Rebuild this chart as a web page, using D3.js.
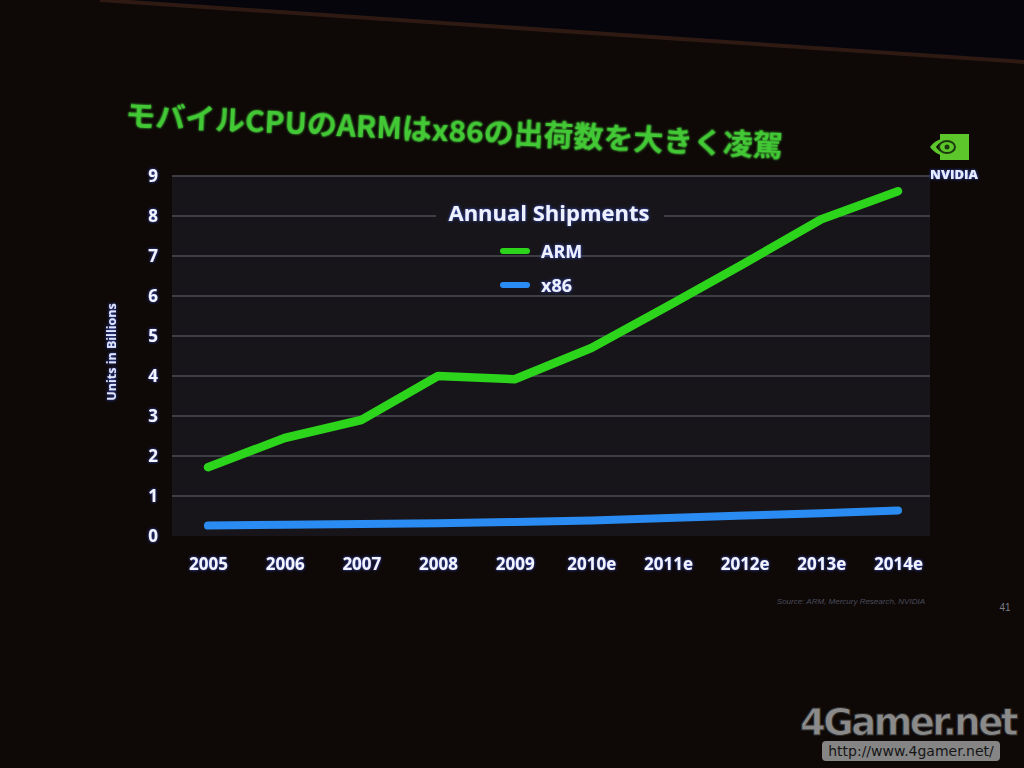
<!DOCTYPE html>
<html>
<head>
<meta charset="utf-8">
<script src="https://cdn.jsdelivr.net/npm/d3@7"></script>
<style>
  html, body { margin: 0; padding: 0; background: #0e0807; }
  svg { display: block; }
</style>
</head>
<body>
<div id="chart"></div>
<script>
/*
DATA
*/
const years = ["2005", "2006", "2007", "2008", "2009", "2010e", "2011e", "2012e", "2013e", "2014e"];
const armValues = [1.72, 2.45, 2.9, 4.0, 3.92, 4.7, 5.75, 6.82, 7.92, 8.62];
const x86Values = [0.26, 0.28, 0.3, 0.32, 0.35, 0.39, 0.45, 0.51, 0.57, 0.64];
const yTicks = [0, 1, 2, 3, 4, 5, 6, 7, 8, 9];
const seriesNames = ["ARM", "x86"];

/*
SET UP
*/
const w = 1024;
const h = 768;
const plot = { left: 172, right: 930, top: 176, bottom: 536 };
const green = "#2cd41c";
const blue = "#2a8cf2";
const labelFont = "'Open Sans', 'DejaVu Sans', sans-serif";

const svg = d3
	.select("#chart")
	.append("svg")
	.attr("width", w)
	.attr("height", h);

// soft glow on the projected slide text
const defs = svg.append("defs");
const glow = defs.append("filter").attr("id", "glow").attr("x", "-20%").attr("y", "-40%").attr("width", "140%").attr("height", "180%");
glow.append("feGaussianBlur").attr("in", "SourceAlpha").attr("stdDeviation", 1.6).attr("result", "blur");
glow.append("feFlood").attr("flood-color", "#3a5cff").attr("flood-opacity", 0.85);
glow.append("feComposite").attr("in2", "blur").attr("operator", "in").attr("result", "halo");
const gm = glow.append("feMerge");
gm.append("feMergeNode").attr("in", "halo");
gm.append("feMergeNode").attr("in", "SourceGraphic");

const greenGlow = defs.append("filter").attr("id", "greenGlow").attr("x", "-10%").attr("y", "-40%").attr("width", "120%").attr("height", "180%");
greenGlow.append("feGaussianBlur").attr("in", "SourceGraphic").attr("stdDeviation", 1.2).attr("result", "blur");
const gg = greenGlow.append("feMerge");
gg.append("feMergeNode").attr("in", "blur");
gg.append("feMergeNode").attr("in", "SourceGraphic");

/*
ROOM BACKGROUND (screen edge at top)
*/
svg.append("rect").attr("width", w).attr("height", h).attr("fill", "#0e0807");
svg.append("path").attr("d", "M0,0 L100,0 L1024,62 L1024,0 Z").attr("fill", "#05050b");
svg.append("path").attr("d", "M100,0 L1024,62").attr("stroke", "#2e1a12").attr("stroke-width", 4);

/*
SCALES
*/
const x = d3.scalePoint().domain(years).range([208, 898]);
const y = d3.scaleLinear().domain([0, 9]).range([plot.bottom, plot.top]);

/*
PLOT AREA + GRID
*/
svg.append("rect")
	.attr("x", plot.left)
	.attr("y", plot.top)
	.attr("width", plot.right - plot.left)
	.attr("height", plot.bottom - plot.top)
	.attr("fill", "#17151a");

svg.append("g")
	.selectAll("line")
	.data(yTicks.filter((d) => d > 0))
	.join("line")
	.attr("x1", plot.left)
	.attr("x2", plot.right)
	.attr("y1", (d) => y(d))
	.attr("y2", (d) => y(d))
	.attr("stroke", "#4a4b55")
	.attr("stroke-width", 1.6);

// y axis labels
const yAxis = d3.axisLeft(y).tickValues(yTicks).tickSize(0).tickPadding(0);
const gy = svg.append("g").attr("transform", "translate(153,0)").call(yAxis);
gy.select(".domain").remove();
gy.selectAll("text")
	.attr("text-anchor", "middle")
	.attr("fill", "#f2f5ff")
	.attr("font-family", labelFont)
	.attr("font-weight", 700)
	.attr("font-size", 17)
	.attr("filter", "url(#glow)");

svg.append("text")
	.attr("transform", "translate(116,352) rotate(-90)")
	.attr("text-anchor", "middle")
	.attr("fill", "#dfe6ff")
	.attr("font-family", labelFont)
	.attr("font-weight", 700)
	.attr("font-size", 12.5)
	.attr("filter", "url(#glow)")
	.text("Units in Billions");

// x axis labels
const xAxis = d3.axisBottom(x).tickSize(0).tickPadding(0);
const gx = svg.append("g").attr("transform", "translate(0,570)").call(xAxis);
gx.select(".domain").remove();
gx.selectAll("text")
	.attr("dy", 0)
	.attr("fill", "#f2f5ff")
	.attr("font-family", labelFont)
	.attr("font-weight", 700)
	.attr("font-size", 17)
	.attr("filter", "url(#glow)");

/*
LINES
*/
const line = d3.line().x((d, i) => x(years[i])).y((d) => y(d));

svg.append("path")
	.datum(x86Values)
	.attr("d", line)
	.attr("fill", "none")
	.attr("stroke", blue)
	.attr("stroke-width", 8)
	.attr("stroke-linecap", "round");

svg.append("path")
	.datum(armValues)
	.attr("d", line)
	.attr("fill", "none")
	.attr("stroke", green)
	.attr("stroke-width", 8.5)
	.attr("stroke-linecap", "round")
	.attr("stroke-linejoin", "round");

// baseline
svg.append("line")
	.attr("x1", 168)
	.attr("x2", 934)
	.attr("y1", y(0))
	.attr("y2", y(0))
	.attr("stroke", "#d3e8f6")
	.attr("stroke-width", 3.5)
	.attr("filter", "url(#glow)");

/*
LEGEND
*/
svg.append("rect")
	.attr("x", 436)
	.attr("y", 196)
	.attr("width", 228)
	.attr("height", 32)
	.attr("fill", "#17151a");

svg.append("text")
	.attr("x", 549)
	.attr("y", 221)
	.attr("text-anchor", "middle")
	.attr("fill", "#eef2ff")
	.attr("font-family", labelFont)
	.attr("font-weight", 700)
	.attr("font-size", 22)
	.attr("filter", "url(#glow)")
	.text("Annual Shipments");

const legend = svg.append("g")
	.selectAll("g")
	.data(seriesNames)
	.join("g")
	.attr("transform", (d, i) => `translate(503,${251 + i * 34})`);

legend.append("line")
	.attr("x1", 0)
	.attr("x2", 24)
	.attr("stroke", (d, i) => (i === 0 ? green : blue))
	.attr("stroke-width", 6)
	.attr("stroke-linecap", "round");

legend.append("text")
	.attr("x", 38)
	.attr("y", 7)
	.attr("fill", "#eef2ff")
	.attr("font-family", labelFont)
	.attr("font-weight", 700)
	.attr("font-size", 18)
	.attr("filter", "url(#glow)")
	.text((d) => d);

/*
SLIDE TITLE
*/
svg.append("text")
	.attr("transform", "translate(125,126) rotate(2.7)")
	.attr("fill", "#43c936")
	.attr("font-family", "'Noto Sans CJK JP', sans-serif")
	.attr("font-weight", 700)
	.attr("font-size", 29)
	.attr("textLength", 658)
	.attr("lengthAdjust", "spacingAndGlyphs")
	.attr("filter", "url(#greenGlow)")
	.text("モバイルCPUのARMはx86の出荷数を大きく凌駕");

/*
NVIDIA LOGO
*/
const logo = svg.append("g").attr("transform", "translate(928,132)");
logo.append("path")
	.attr("d", "M12,2 L41,2 L41,28 L12,28 Z")
	.attr("fill", "#5cc62a");
logo.append("path")
	.attr("d", "M2,15 C10,4 26,3 34,12 C27,5 14,6 8,15 C14,24 26,25 34,18 C26,28 10,26 2,15 Z")
	.attr("fill", "#5cc62a");
logo.append("ellipse")
	.attr("cx", 19).attr("cy", 15).attr("rx", 8).attr("ry", 6)
	.attr("fill", "none").attr("stroke", "#1c3a10").attr("stroke-width", 2);
logo.append("circle")
	.attr("cx", 19).attr("cy", 15).attr("r", 2.5)
	.attr("fill", "#1c3a10");
svg.append("text")
	.attr("x", 954)
	.attr("y", 179)
	.attr("text-anchor", "middle")
	.attr("fill", "#e6ecff")
	.attr("font-family", labelFont)
	.attr("font-weight", 800)
	.attr("font-size", 13)
	.attr("filter", "url(#glow)")
	.text("NVIDIA");

/*
SOURCE + PAGE NUMBER
*/
svg.append("text")
	.attr("x", 925)
	.attr("y", 604)
	.attr("text-anchor", "end")
	.attr("fill", "#4a4d5a")
	.attr("font-family", "'Liberation Sans', sans-serif")
	.attr("font-style", "italic")
	.attr("font-size", 8)
	.text("Source:  ARM, Mercury Research, NVIDIA");

svg.append("text")
	.attr("x", 1005)
	.attr("y", 611)
	.attr("text-anchor", "middle")
	.attr("fill", "#7a7c88")
	.attr("font-family", "'Liberation Sans', sans-serif")
	.attr("font-size", 10)
	.text("41");

/*
WATERMARK
*/
svg.append("text")
	.attr("x", 908)
	.attr("y", 735)
	.attr("text-anchor", "middle")
	.attr("fill", "#8a8a8a")
	.attr("stroke", "#2a2a2a")
	.attr("stroke-width", 1)
	.attr("font-family", "'DejaVu Sans', sans-serif")
	.attr("font-weight", 700)
	.attr("font-size", 37)
	.attr("letter-spacing", -2.5)
	.text("4Gamer.net");

svg.append("rect")
	.attr("x", 822)
	.attr("y", 741)
	.attr("width", 178)
	.attr("height", 20)
	.attr("rx", 4)
	.attr("fill", "#858585");

svg.append("text")
	.attr("x", 911)
	.attr("y", 756)
	.attr("text-anchor", "middle")
	.attr("fill", "#161616")
	.attr("font-family", "'DejaVu Sans', sans-serif")
	.attr("font-size", 14)
	.text("http://www.4gamer.net/");
</script>
</body>
</html>
